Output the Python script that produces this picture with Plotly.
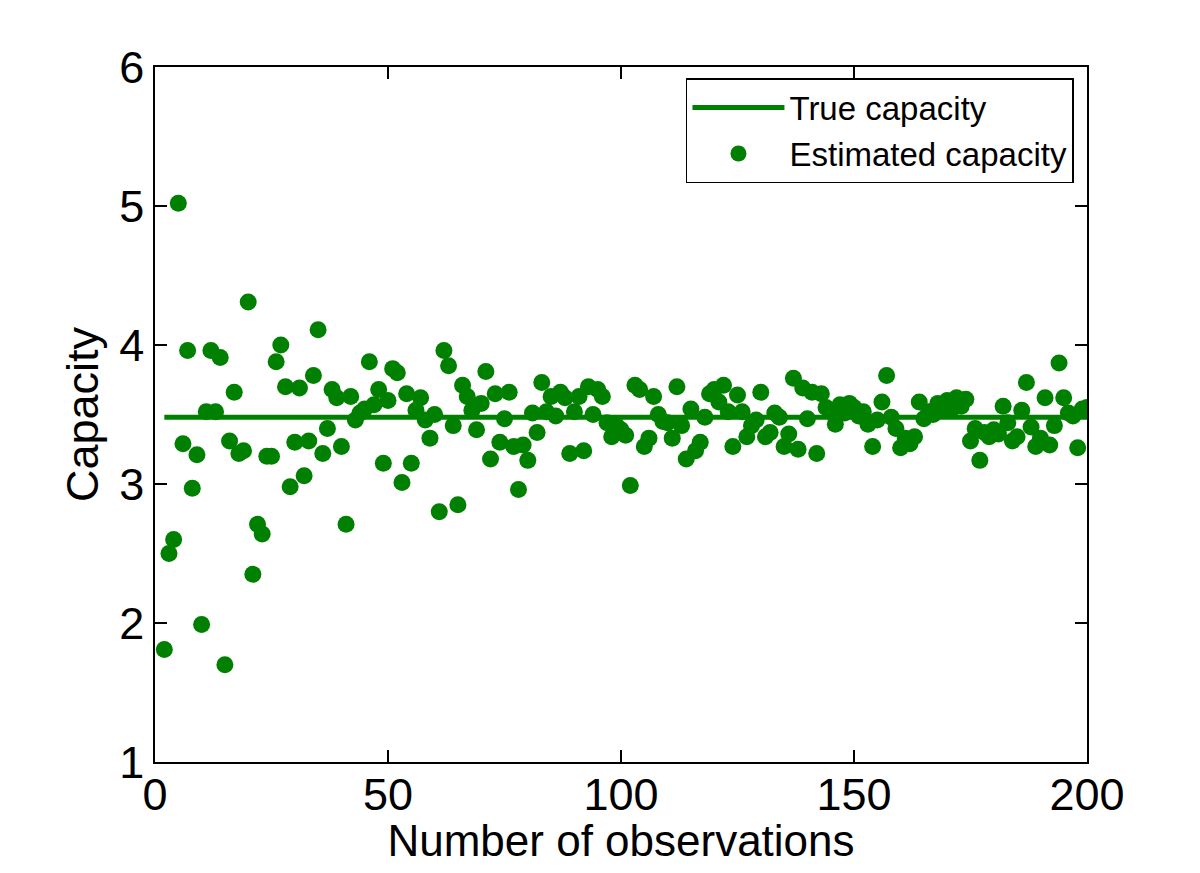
import plotly.graph_objects as go

# Data
n_obs = list(range(2, 201))
estimated = [
    1.81, 2.50, 2.60, 5.02, 3.29, 3.96, 2.97, 3.21, 1.99, 3.52,
    3.96, 3.52, 3.91, 1.70, 3.31, 3.66, 3.22, 3.24, 4.31, 2.35,
    2.71, 2.64, 3.20, 3.20, 3.88, 4.00, 3.70, 2.98, 3.30, 3.69,
    3.06, 3.31, 3.78, 4.11, 3.22, 3.40, 3.68, 3.62, 3.27, 2.71,
    3.63, 3.46, 3.51, 3.54, 3.88, 3.57, 3.68, 3.15, 3.60, 3.83,
    3.80, 3.01, 3.65, 3.15, 3.53, 3.62, 3.46, 3.33, 3.50, 2.80,
    3.96, 3.85, 3.42, 2.85, 3.71, 3.63, 3.53, 3.39, 3.58, 3.81,
    3.18, 3.65, 3.30, 3.47, 3.66, 3.27, 2.96, 3.28, 3.17, 3.51,
    3.37, 3.73, 3.52, 3.63, 3.49, 3.66, 3.62, 3.22, 3.52, 3.63,
    3.24, 3.70, 3.50, 3.68, 3.63, 3.44, 3.34, 3.42, 3.39, 3.35,
    2.99, 3.71, 3.68, 3.27, 3.33, 3.63, 3.50, 3.45, 3.44, 3.33,
    3.70, 3.42, 3.18, 3.54, 3.24, 3.30, 3.48, 3.65, 3.68, 3.59,
    3.71, 3.52, 3.27, 3.64, 3.52, 3.34, 3.42, 3.46, 3.66, 3.34,
    3.37, 3.51, 3.48, 3.27, 3.36, 3.76, 3.25, 3.69, 3.47, 3.66,
    3.22, 3.65, 3.55, 3.52, 3.43, 3.57, 3.51, 3.58, 3.55, 3.49,
    3.52, 3.43, 3.27, 3.46, 3.59, 3.78, 3.48, 3.40, 3.26, 3.33,
    3.29, 3.34, 3.59, 3.47, 3.52, 3.50, 3.58, 3.54, 3.60, 3.54,
    3.62, 3.56, 3.61, 3.31, 3.40, 3.17, 3.37, 3.34, 3.39, 3.36,
    3.56, 3.44, 3.31, 3.34, 3.53, 3.73, 3.41, 3.27, 3.33, 3.62,
    3.28, 3.42, 3.87, 3.62, 3.51, 3.49, 3.26, 3.54, 3.55,
]
true_capacity = 3.48
true_x = [2, 200]
true_y = [true_capacity, true_capacity]

x_ticks = [0, 50, 100, 150, 200]
y_ticks = [1, 2, 3, 4, 5, 6]

GREEN = "#008000"
FONT = "Liberation Sans, Arial, Helvetica, sans-serif"

fig = go.Figure()
fig.add_trace(go.Scatter(
    x=true_x, y=true_y, mode="lines", name="True capacity",
    line=dict(color=GREEN, width=5),
))
fig.add_trace(go.Scatter(
    x=n_obs, y=estimated, mode="markers", name="Estimated capacity",
    marker=dict(color=GREEN, size=17, line=dict(width=0)),
))

axis_common = dict(
    showline=True, linecolor="black", linewidth=1.5, mirror="ticks",
    ticks="inside", ticklen=12, tickwidth=1.5, tickcolor="black",
    showgrid=False, zeroline=False, automargin=False,
    tickfont=dict(family=FONT, size=45, color="black"),
)

fig.update_layout(
    width=1184, height=857,
    paper_bgcolor="white", plot_bgcolor="white",
    margin=dict(l=147, r=105, t=59, b=103),
    font=dict(family=FONT, color="black"),
    xaxis=dict(
        range=[0, 200], tickvals=x_ticks,
        title=dict(text="Number of observations", font=dict(family=FONT, size=44), standoff=3),
        ticklabelstandoff=-8,
        **axis_common,
    ),
    yaxis=dict(
        range=[1, 6], tickvals=y_ticks,
        title=dict(text="Capacity", font=dict(family=FONT, size=45), standoff=6),
        ticklabelstandoff=0,
        **axis_common,
    ),
    legend=dict(
        x=0.986, y=0.984, xanchor="right", yanchor="top",
        bgcolor="white", bordercolor="black", borderwidth=1.5,
        font=dict(family=FONT, size=33, color="black"),
        itemwidth=92, tracegroupgap=0,
    ),
    showlegend=True,
)

fig.write_html("out.html")
